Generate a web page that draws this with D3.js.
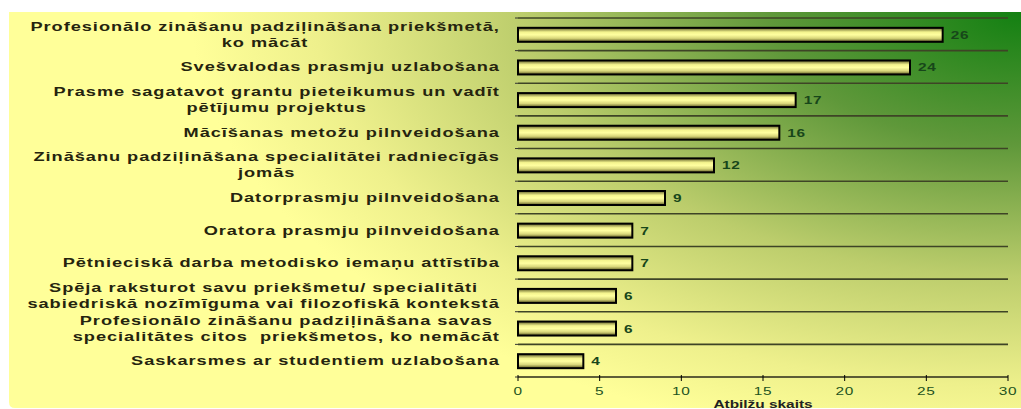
<!DOCTYPE html>
<html>
<head>
<meta charset="utf-8">
<script src="https://cdn.jsdelivr.net/npm/d3@7"></script>
<style>
  body { margin: 0; background: #fff; }
  text { font-family: "Liberation Sans", Arial, sans-serif; white-space: pre; }
</style>
</head>
<body>
<div id="chart"></div>
<script>
var categories = [
    ['Profesionālo zināšanu padziļināšana priekšmetā,', 'ko mācāt'],
    ['Svešvalodas prasmju uzlabošana'],
    ['Prasme sagatavot grantu pieteikumus un vadīt', 'pētījumu projektus'],
    ['Mācīšanas metožu pilnveidošana'],
    ['Zināšanu padziļināšana specialitātei radniecīgās', 'jomās'],
    ['Datorprasmju pilnveidošana'],
    ['Oratora prasmju pilnveidošana'],
    ['Pētnieciskā darba metodisko iemaņu attīstība'],
    ['Spēja raksturot savu priekšmetu/ specialitāti', 'sabiedriskā nozīmīguma vai filozofiskā kontekstā'],
    ['Profesionālo zināšanu padziļināšana savas', 'specialitātes citos  priekšmetos, ko nemācāt'],
    ['Saskarsmes ar studentiem uzlabošana']
];
var values = [26, 24, 17, 16, 12, 9, 7, 7, 6, 6, 4];
var xTicks = [0, 5, 10, 15, 20, 25, 30];
var axisTitle = 'Atbilžu skaits';

var width = 1021;
var height = 409;
var stretch = 1.4;

var svg = d3.select('#chart')
    .append('svg')
    .attr('width', width)
    .attr('height', height);

var defs = svg.append('defs');

// background: green in the top right corner fading to pale yellow
var bg = defs.append('radialGradient')
    .attr('id', 'bg')
    .attr('gradientUnits', 'userSpaceOnUse')
    .attr('cx', 0).attr('cy', 0).attr('r', 1)
    .attr('gradientTransform', 'translate(1021,12) scale(830,440)');
[[0, '#138012'], [0.3, '#5f983a'], [0.6, '#bccd6c'], [0.85, '#eef08c'], [1, '#ffff99']]
    .forEach(function (s) {
        bg.append('stop').attr('offset', s[0]).attr('stop-color', s[1]);
    });

var bar = defs.append('linearGradient')
    .attr('id', 'bar')
    .attr('x1', 0).attr('y1', 0).attr('x2', 0).attr('y2', 1);
[[0, '#5e5c28'], [0.3, '#f4f48e'], [0.5, '#ffffa0'], [0.75, '#d8d67a'], [1, '#58561f']]
    .forEach(function (s) {
        bar.append('stop').attr('offset', s[0]).attr('stop-color', s[1]);
    });

svg.append('path')
    .attr('d', 'M9,12H1021V408H15Q9,408 9,402Z')
    .attr('fill', 'url(#bg)');

var x = d3.scaleLinear().domain([0, 30]).range([518, 1008]);
var y = d3.scaleBand().domain(d3.range(categories.length)).range([18, 377]);

// gridlines on band boundaries
svg.selectAll('line.grid')
    .data(d3.range(categories.length))
    .enter()
    .append('line')
    .attr('class', 'grid')
    .attr('x1', x(0)).attr('x2', x(30))
    .attr('y1', function (d) { return y(d); })
    .attr('y2', function (d) { return y(d); })
    .attr('stroke', '#3e4426')
    .attr('stroke-width', 1.6);

// little category ticks on the left
svg.selectAll('line.ctick')
    .data(d3.range(categories.length + 1))
    .enter()
    .append('line')
    .attr('class', 'ctick')
    .attr('x1', x(0) - 3).attr('x2', x(0))
    .attr('y1', function (d) { return 18 + d * y.step(); })
    .attr('y2', function (d) { return 18 + d * y.step(); })
    .attr('stroke', '#333')
    .attr('stroke-width', 1);

var barH = 14;
svg.selectAll('rect.bar')
    .data(values)
    .enter()
    .append('rect')
    .attr('class', 'bar')
    .attr('x', x(0))
    .attr('y', function (d, i) { return y(i) + y.bandwidth() / 2 - barH / 2 + 0.5; })
    .attr('width', function (d) { return x(d) - x(0); })
    .attr('height', barH)
    .attr('fill', 'url(#bar)')
    .attr('stroke', '#000')
    .attr('stroke-width', 2);

svg.selectAll('text.val')
    .data(values)
    .enter()
    .append('text')
    .attr('class', 'val')
    .attr('transform', function (d, i) {
        return 'translate(' + (x(d) + 8) + ',' + (y(i) + y.bandwidth() / 2 + 4.5) + ') scale(' + stretch + ',1)';
    })
    .attr('font-size', 11)
    .attr('font-weight', 'bold')
    .attr('letter-spacing', 0.5)
    .attr('fill', '#17461a')
    .text(function (d) { return d; });

// x axis
var axisG = svg.append('g')
    .attr('transform', 'translate(0,377)');
axisG.append('line')
    .attr('x1', x(0)).attr('x2', x(30))
    .attr('stroke', '#2a2a18').attr('stroke-width', 1.6);
axisG.selectAll('line.tick')
    .data(xTicks)
    .enter()
    .append('line')
    .attr('class', 'tick')
    .attr('x1', function (d) { return x(d); })
    .attr('x2', function (d) { return x(d); })
    .attr('y1', -2).attr('y2', 4)
    .attr('stroke', '#000').attr('stroke-width', 1);
axisG.selectAll('text.tl')
    .data(xTicks)
    .enter()
    .append('text')
    .attr('class', 'tl')
    .attr('text-anchor', 'middle')
    .attr('transform', function (d) { return 'translate(' + x(d) + ',18) scale(' + stretch + ',1)'; })
    .attr('font-size', 11)
    .attr('letter-spacing', 0.5)
    .attr('fill', '#1d531d')
    .text(function (d) { return d; });

svg.append('text')
    .attr('text-anchor', 'middle')
    .attr('transform', 'translate(' + x(15) + ',408) scale(' + stretch + ',1)')
    .attr('font-size', 11)
    .attr('font-weight', 'bold')
    .attr('fill', '#222')
    .text(axisTitle);

// category labels, right aligned block with centred lines
var labelRight = 500;
var lineGap = 16;
categories.forEach(function (lines, i) {
    var cy = y(i) + y.bandwidth() / 2;
    var g = svg.append('g');
    var texts = lines.map(function (ln) {
        return g.append('text')
            .attr('font-size', 13)
            .attr('font-weight', 'bold')
            .attr('letter-spacing', 0.7)
            .attr('fill', '#25240e')
            .attr('text-anchor', 'middle')
            .text(ln);
    });
    var maxW = d3.max(texts, function (t) { return t.node().getComputedTextLength(); }) * stretch;
    var cx = labelRight - maxW / 2;
    texts.forEach(function (t, k) {
        var ty = cy + (k - (lines.length - 1) / 2) * lineGap + 4.5;
        t.attr('transform', 'translate(' + cx + ',' + ty + ') scale(' + stretch + ',1)');
    });
});
</script>
</body>
</html>
